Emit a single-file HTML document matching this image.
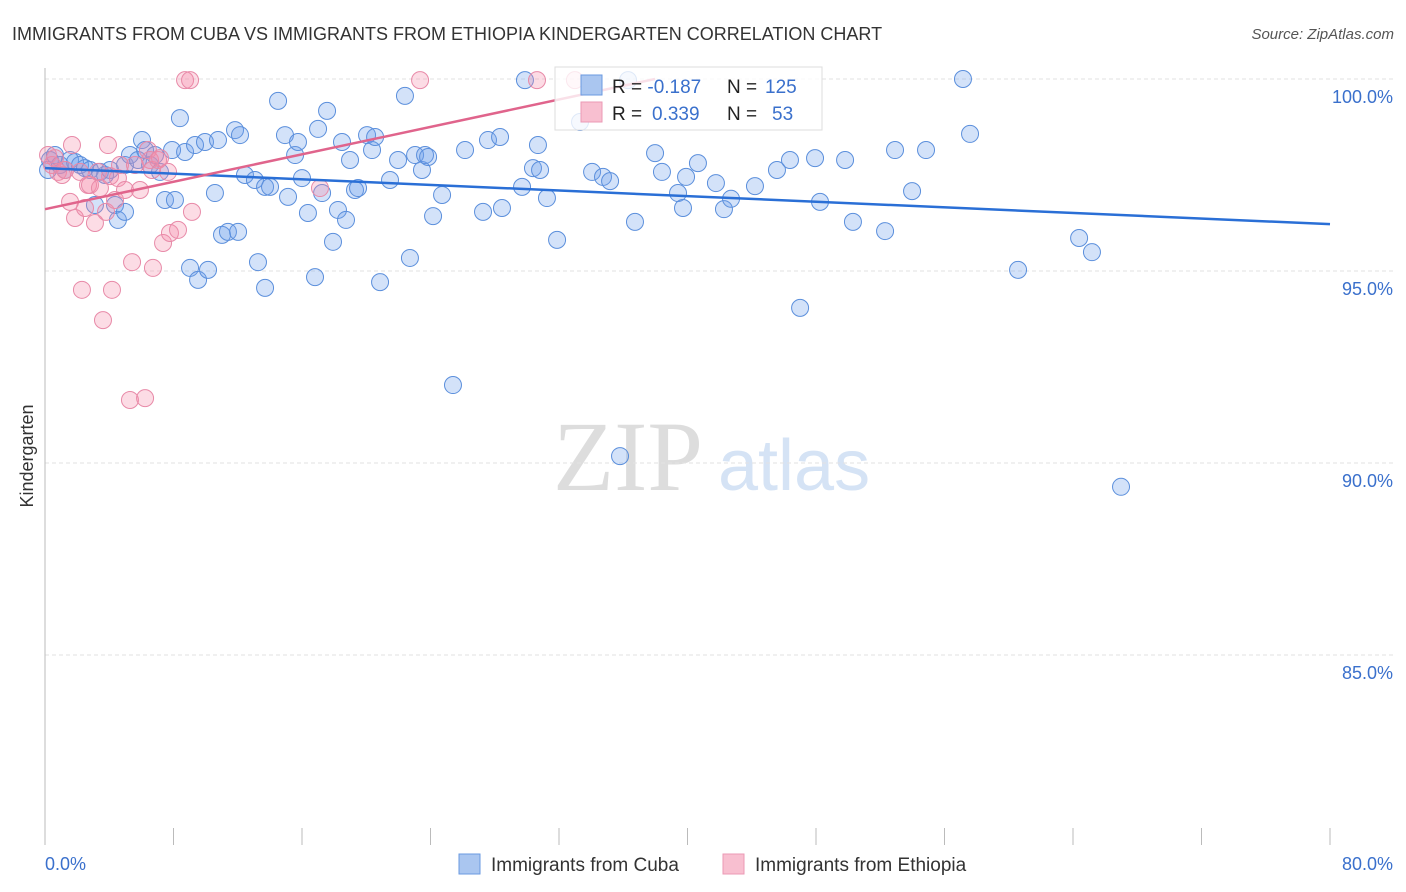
<!DOCTYPE html>
<html><head><meta charset="utf-8">
<style>
body{margin:0;background:#fff;font-family:"Liberation Sans",sans-serif;}
svg{display:block}
</style></head>
<body>
<svg id="chart" width="1406" height="892">
<text x="12" y="40" font-size="18" fill="#333">IMMIGRANTS FROM CUBA VS IMMIGRANTS FROM ETHIOPIA KINDERGARTEN CORRELATION CHART</text>
<text x="1394" y="39" font-size="15" fill="#555" font-style="italic" text-anchor="end">Source: ZipAtlas.com</text>
<text x="553" y="490" font-size="100" fill="#ddd" font-family="Liberation Serif,serif">ZIP</text>
<text x="718" y="490" font-size="72" fill="#d5e3f5">atlas</text>
<text transform="translate(33,456) rotate(-90)" font-size="18" fill="#333" text-anchor="middle">Kindergarten</text>
<g id="grid"></g>
<g id="pts"></g>
<g id="lines"></g>
<g>
<rect x="555" y="67" width="267" height="63" fill="#fff" fill-opacity="0.8" stroke="#ddd"/>
<rect x="581" y="75" width="21" height="20" fill="#aac6f0" stroke="#6a9ae0"/>
<rect x="581" y="102" width="21" height="20" fill="#f8bfd0" stroke="#eb9ab5"/>
<text x="612" y="93" font-size="19" fill="#222">R = <tspan fill="#3a70cc">-0.187</tspan><tspan x="727">N = </tspan><tspan fill="#3a70cc" x="765">125</tspan></text>
<text x="612" y="120" font-size="19" fill="#222">R = <tspan fill="#3a70cc" x="652">0.339</tspan><tspan x="727">N = </tspan><tspan fill="#3a70cc" x="772">53</tspan></text>
</g>
<g>
<rect x="459" y="854" width="21" height="20" fill="#aac6f0" stroke="#6a9ae0"/>
<text x="491" y="871" font-size="19" fill="#333">Immigrants from Cuba</text>
<rect x="723" y="854" width="21" height="20" fill="#f8bfd0" stroke="#eb9ab5"/>
<text x="755" y="871" font-size="19" fill="#333">Immigrants from Ethiopia</text>
</g>
<text x="45" y="870" font-size="18" fill="#3a70cc">0.0%</text>
<text x="1393" y="870" font-size="18" fill="#3a70cc" text-anchor="end">80.0%</text>
</svg>
<script>
const yTicks=[100,95,90,85];
const cubaX=[0.31,0.19,0.62,0.93,1.25,1.56,1.87,2.18,2.49,2.80,3.11,3.42,3.74,4.05,4.36,4.54,4.98,4.98,5.29,5.79,6.04,6.23,6.54,6.85,7.16,7.47,7.91,8.09,8.40,8.72,9.03,9.34,9.53,9.96,10.15,10.58,10.77,11.02,11.39,11.83,12.02,12.14,12.45,13.07,13.26,13.70,13.70,14.01,14.51,14.94,15.13,15.57,15.75,16.00,16.37,16.81,17.00,17.25,17.56,17.93,18.24,18.49,18.74,18.99,19.30,19.49,20.05,20.36,20.55,20.86,21.48,21.98,22.41,22.72,23.04,23.47,23.66,23.85,24.16,24.72,25.40,26.15,27.27,27.58,28.33,28.45,29.70,29.88,30.38,30.69,30.82,31.25,31.88,33.31,34.06,34.74,35.18,35.80,36.30,36.73,37.98,38.41,39.41,39.72,39.91,40.65,41.77,42.27,42.71,44.20,45.57,46.38,47.01,47.94,48.25,49.81,50.30,52.30,52.92,53.98,54.85,57.15,57.59,60.58,64.38,65.18,66.99];
const cubaY=[97.89,97.63,98.02,97.76,97.63,97.89,97.84,97.76,97.68,97.63,96.72,97.58,97.50,97.63,96.72,96.33,96.54,97.76,98.02,97.89,98.41,98.15,97.76,98.02,97.58,96.85,98.15,96.85,98.98,98.10,95.08,98.28,94.77,98.36,95.03,97.03,98.41,95.94,96.02,98.67,96.02,98.54,97.50,97.37,95.23,97.19,94.56,97.19,99.43,98.54,96.93,98.02,98.36,97.42,96.51,94.84,98.70,97.03,99.17,95.76,96.59,98.36,96.33,97.89,97.11,97.16,98.54,98.15,98.49,94.71,97.37,97.89,99.56,95.34,98.02,97.63,98.02,97.97,96.43,96.98,92.03,98.15,96.54,98.41,98.49,96.64,97.19,99.97,97.68,98.28,97.63,96.90,95.81,98.88,97.58,97.45,97.34,90.18,99.97,96.28,98.07,97.58,97.03,96.64,97.45,97.81,97.29,96.61,96.88,97.21,97.63,97.89,94.04,97.94,96.80,97.89,96.28,96.04,98.15,97.08,98.15,100.0,98.57,95.03,95.86,95.49,89.38];
const ethX=[0.19,0.44,0.62,0.81,1.06,1.25,1.56,1.68,1.87,2.18,2.30,2.49,2.68,2.80,3.11,3.30,3.42,3.61,3.80,3.92,4.05,4.17,4.36,4.54,4.67,4.98,5.29,5.42,5.60,5.91,6.23,6.41,6.54,6.66,6.72,7.04,7.16,7.35,7.66,7.78,8.28,8.72,9.03,9.15,17.12,23.35,30.63,32.99];
const ethY=[98.02,97.76,97.94,97.58,97.50,97.63,96.80,98.28,96.38,97.58,94.51,96.64,97.24,97.24,96.25,97.58,97.16,93.72,96.54,98.28,97.47,94.51,96.85,97.42,97.76,97.11,91.64,95.23,97.76,97.11,91.69,98.15,97.89,97.63,95.08,97.89,97.94,95.73,97.58,95.99,96.07,99.97,99.97,96.54,97.16,99.97,99.97,99.97];
const cubaLine=[97.68,96.22];
const ethLine=[96.61,100.0,37.98];
const NS="http://www.w3.org/2000/svg";
const X=v=>45+v/80*1285, Y=v=>79+(100-v)*38.4;
function mk(t,a,p){const e=document.createElementNS(NS,t);for(const k in a)e.setAttribute(k,a[k]);p.appendChild(e);return e;}
const grid=document.getElementById('grid');
yTicks.forEach(t=>{
 const l=mk('line',{x1:45,x2:1393,y1:Y(t),y2:Y(t),stroke:'#e2e2e2','stroke-dasharray':'4,3'},grid);
 
 
 const tx=mk('text',{x:1393,y:Y(t)+24,'font-size':18,fill:'#3a70cc','text-anchor':'end'},grid);
 tx.textContent=t.toFixed(1)+'%';
 
 
});
const ax=mk('line',{x1:45,x2:45,y1:68,y2:845,stroke:'#bbb'},grid);


for(let i=0;i<=10;i++){
 const tk=mk('line',{x1:X(i*8),x2:X(i*8),y1:828,y2:845,stroke:'#bbb'},grid);
 
 
}
const pts=document.getElementById('pts');
cubaX.forEach((x,i)=>{
 const c=mk('circle',{cx:X(x),cy:Y(cubaY[i]),r:8.5,fill:'rgba(110,160,235,0.3)',stroke:'#5b8fdc','stroke-width':1},pts);
 
 
});
ethX.forEach((x,i)=>{
 const c=mk('circle',{cx:X(x),cy:Y(ethY[i]),r:8.5,fill:'rgba(245,140,170,0.3)',stroke:'#e88aa8','stroke-width':1},pts);
 
 
});
const lines=document.getElementById('lines');
const bl=mk('line',{x1:X(0),y1:Y(cubaLine[0]),x2:X(80),y2:Y(cubaLine[1]),stroke:'#2a6fd6','stroke-width':2.5},lines);


const pl=mk('line',{x1:X(0),y1:Y(ethLine[0]),x2:X(ethLine[2]),y2:Y(ethLine[1]),stroke:'#e0648c','stroke-width':2.5},lines);


</script>
</body></html>
